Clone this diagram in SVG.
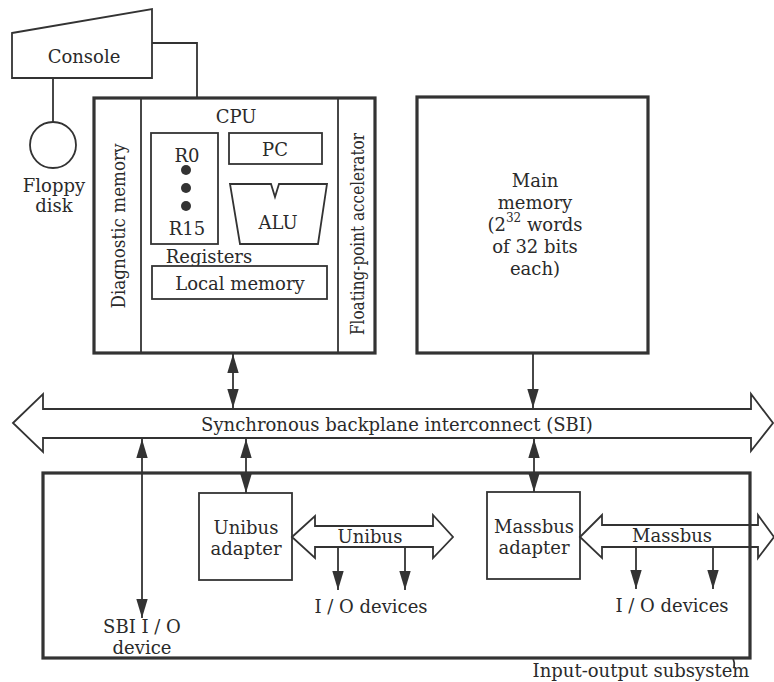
<svg xmlns="http://www.w3.org/2000/svg" width="774" height="682" viewBox="0 0 774 682">
<style>
text{font-family:"DejaVu Serif","Liberation Serif",serif;font-size:18px;fill:#2a2a2a;text-anchor:middle;dominant-baseline:central}
.b{fill:#fff;stroke:#333;stroke-width:1.8}
.thick{fill:#fff;stroke:#333;stroke-width:3.2}
.ln{fill:none;stroke:#333;stroke-width:1.8}
.ar{fill:none;stroke:#333;stroke-width:1.8;marker-end:url(#ah)}
.dar{fill:none;stroke:#333;stroke-width:1.8;marker-start:url(#ah);marker-end:url(#ah)}
</style>
<defs>
<marker id="ah" viewBox="0 0 20 12" refX="20" refY="6" markerWidth="19" markerHeight="12" markerUnits="userSpaceOnUse" orient="auto-start-reverse">
<path d="M0,0 L20,6 L0,12 z" fill="#333"/>
</marker>
</defs>
<rect width="774" height="682" fill="#fff"/>

<g id="connectors">
<path class="ln" d="M152,43 H197 V98"/>
<path class="ln" d="M53,78 V122"/>
<line class="dar" x1="233" y1="354" x2="233" y2="408"/>
<line class="ar" x1="533" y1="354" x2="533" y2="408"/>
<line class="dar" x1="142" y1="439" x2="142" y2="618"/>
<line class="dar" x1="246" y1="439" x2="246" y2="493"/>
<line class="dar" x1="534" y1="439" x2="534" y2="492"/>
<line class="ar" x1="338" y1="547" x2="338" y2="590"/>
<line class="ar" x1="405" y1="547" x2="405" y2="590"/>
<line class="ar" x1="636" y1="547" x2="636" y2="589"/>
<line class="ar" x1="713" y1="547" x2="713" y2="589"/>
<path class="ln" d="M733,658 Q735,663 734,668" stroke-width="1.2"/>
</g>

<g id="console">
<polygon class="b" points="12,33 152,9 152,78 12,78"/>
<text x="84" y="56">Console</text>
</g>

<g id="floppy">
<circle class="b" cx="53" cy="145" r="23"/>
<text x="54" y="185">Floppy</text>
<text x="54" y="205">disk</text>
</g>

<g id="cpu">
<rect class="thick" x="94" y="98" width="281" height="255"/>
<line class="ln" x1="141" y1="98" x2="141" y2="353"/>
<line class="ln" x1="338" y1="98" x2="338" y2="353"/>
<text x="236" y="116">CPU</text>
<text x="118" y="226" font-size="16.5" textLength="165" lengthAdjust="spacingAndGlyphs" transform="rotate(-90 118 226)">Diagnostic memory</text>
<text x="357" y="234" font-size="15.5" textLength="202" lengthAdjust="spacingAndGlyphs" transform="rotate(-90 357 234)">Floating-point accelerator</text>
</g>

<g id="registers">
<rect class="b" x="151" y="133" width="67" height="111"/>
<text x="187" y="155">R0</text>
<circle cx="186" cy="170" r="5" fill="#333"/>
<circle cx="186" cy="188" r="5" fill="#333"/>
<circle cx="186" cy="206" r="5" fill="#333"/>
<text x="187" y="228">R15</text>
<text x="209" y="256">Registers</text>
</g>

<g id="pc">
<rect class="b" x="229" y="133" width="93" height="31"/>
<text x="275" y="149">PC</text>
</g>

<g id="alu">
<polygon class="b" points="230,184 271,184 275,197 279,184 327,184 318,244 240,244"/>
<text x="278" y="222">ALU</text>
</g>

<g id="local-memory">
<rect class="b" x="152" y="266" width="175" height="33"/>
<text x="240" y="283">Local memory</text>
</g>

<g id="main-memory">
<rect class="thick" x="417" y="97" width="231" height="256"/>
<text x="535" y="180">Main</text>
<text x="535" y="202">memory</text>
<text x="535" y="224">(2<tspan font-size="12" dy="-6">32</tspan><tspan dy="6"> words</tspan></text>
<text x="535" y="246">of 32 bits</text>
<text x="535" y="268">each)</text>
</g>

<g id="sbi">
<polygon class="b" points="13,423 43,394 43,409 751,409 751,394 773,423 751,451 751,438 43,438 43,452"/>
<text x="397" y="424" font-size="18.5">Synchronous backplane interconnect (SBI)</text>
</g>

<g id="unibus-adapter">
<rect class="b" x="199" y="493" width="93" height="87"/>
<text x="246" y="527">Unibus</text>
<text x="246" y="548">adapter</text>
</g>

<g id="unibus">
<polygon class="b" points="292,537 315,516 315,526 433,526 433,515 453,537 433,558 433,547 315,547 315,558"/>
<text x="370" y="536">Unibus</text>
</g>

<g id="massbus-adapter">
<rect class="b" x="487" y="492" width="93" height="87"/>
<text x="534" y="526">Massbus</text>
<text x="534" y="547">adapter</text>
</g>

<g id="massbus">
<polygon class="b" points="580,537 602,515 602,525 758,525 758,515 774,537 758,558 758,547 602,547 602,558"/>
<text x="672" y="535">Massbus</text>
</g>

<g id="io-devices-1">
<text x="371" y="606">I / O devices</text>
</g>
<g id="io-devices-2">
<text x="672" y="605">I / O devices</text>
</g>
<g id="sbi-io-device">
<text x="142" y="626">SBI I / O</text>
<text x="142" y="647">device</text>
</g>

<g id="io-subsystem">
<rect x="43" y="473" width="707" height="185" fill="none" stroke="#333" stroke-width="3.2"/>
<text x="641" y="670" font-size="16.5">Input-output subsystem</text>
</g>
</svg>
